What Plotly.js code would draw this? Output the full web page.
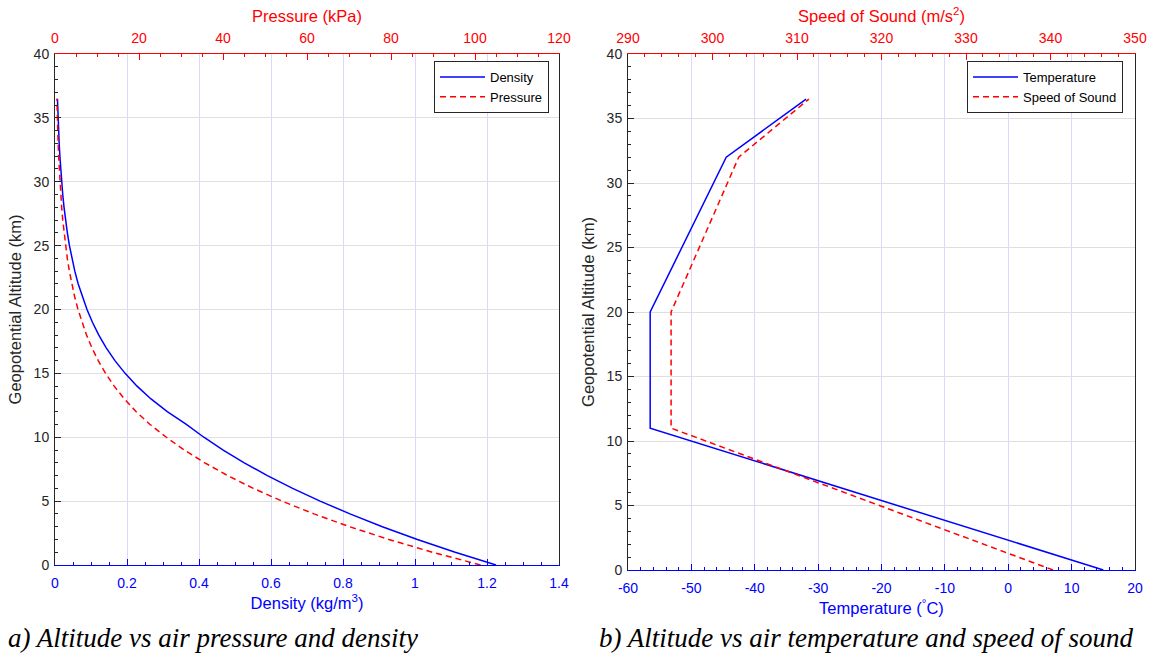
<!DOCTYPE html>
<html>
<head>
<meta charset="utf-8">
<script src="https://cdn.plot.ly/plotly-3.0.1.min.js"></script>
<style>html,body{margin:0;padding:0;background:#fff;}#chart{width:1151px;height:660px;}</style>
</head>
<body>
<div id="chart"></div>
<script>
// ---- Data ----
const altitudeKm = [0,1,2,3,4,5,6,7,8,9,10,11,12,13,14,15,16,17,18,19,20,21,22,23,24,25,26,27,28,29,30,31,32,33,34,35,36,36.5];
const densityKgM3 = [1.2250,1.1117,1.0066,0.9093,0.8194,0.7364,0.6601,0.5900,0.5258,0.4671,0.4135,0.3648,0.3119,0.2666,0.2279,0.1948,0.1665,0.1423,0.1217,0.1040,0.0889,0.0757,0.0645,0.0550,0.0469,0.0401,0.0343,0.0293,0.0251,0.0215,0.0184,0.0158,0.0136,0.0116,0.0099,0.0085,0.0073,0.0068];
const pressureKPa = [101.325,89.876,79.501,70.121,61.660,54.048,47.217,41.105,35.651,30.800,26.500,22.632,19.330,16.510,14.101,12.045,10.287,8.786,7.505,6.410,5.475,4.678,3.999,3.422,2.930,2.511,2.153,1.847,1.586,1.363,1.172,1.009,0.868,0.748,0.645,0.557,0.482,0.448];

const layerAltKm = [0,11,20,32,36.5];
const temperatureC = [15,-56.5,-56.5,-44.5,-31.9];
const speedOfSound = [340.3,295.1,295.1,303.1,311.4];

// tick labels (hyphen minus as in the reference)
const tempTickVals = [-60,-50,-40,-30,-20,-10,0,10,20];
const tempTickText = ['-60','-50','-40','-30','-20','-10','0','10','20'];

const captionA = "a) Altitude vs air pressure and density";
const captionB = "b) Altitude vs air temperature and speed of sound";

// ---- Styling ----
const BLUE = '#0000ff', RED = '#ff0000', DARK = '#262626';
const SANS = 'Liberation Sans, Arial, sans-serif';
const tickFont = (c) => ({family:SANS, size:14, color:c});
const titleFont = (c) => ({family:SANS, size:16.5, color:c});
const W = 1151, H = 660;
const px = v => v / W, py = v => 1 - v / H;
const DASH = '6px,4px';

const traces = [
  {x: densityKgM3, y: altitudeKm, xaxis:'x', yaxis:'y', type:'scatter', mode:'lines',
   name:'Density', line:{color:BLUE, width:1.5}, legend:'legend'},
  {x: pressureKPa, y: altitudeKm, xaxis:'x2', yaxis:'y', type:'scatter', mode:'lines',
   name:'Pressure', line:{color:RED, width:1.5, dash:DASH}, legend:'legend'},
  {x: temperatureC, y: layerAltKm, xaxis:'x3', yaxis:'y2', type:'scatter', mode:'lines',
   name:'Temperature', line:{color:BLUE, width:1.5}, legend:'legend2'},
  {x: speedOfSound, y: layerAltKm, xaxis:'x4', yaxis:'y2', type:'scatter', mode:'lines',
   name:'Speed of Sound', line:{color:RED, width:1.5, dash:DASH}, legend:'legend2'}
];

function xAx(opts){
  return Object.assign({
    showline:true, linewidth:1, ticks:'inside', ticklen:6, tickwidth:1,
    zeroline:false, fixedrange:true, showgrid:false
  }, opts);
}

const domA = [px(55), px(559)], domB = [px(628), px(1135)];
const yDomA = [py(565), py(54)], yDomB = [py(570), py(54)];

const yBase = {
  range:[0,40], dtick:5, tick0:0, showline:true, linecolor:DARK, linewidth:1,
  mirror:true, ticks:'inside', ticklen:6, tickcolor:DARK, tickfont:tickFont(DARK),
  showgrid:true, gridcolor:'#dfdfdf', gridwidth:1, zeroline:false, ticklabelstandoff:2,
  minor:{dtick:1, ticks:'inside', ticklen:3, tickcolor:DARK, showgrid:false},
  title:{text:'Geopotential Altitude (km)', font:titleFont(DARK), standoff:7}
};

const legendBase = {xanchor:'left', yanchor:'top', bgcolor:'#fff',
  bordercolor:'#262626', borderwidth:1, font:{family:SANS, size:13, color:'#000'},
  tracegroupgap:0, itemwidth:45};

const layout = {
  width:W, height:H, margin:{l:0,r:0,t:0,b:0},
  paper_bgcolor:'#fff', plot_bgcolor:'#fff', showlegend:true,
  xaxis: xAx({domain:domA, anchor:'y', side:'bottom', range:[0,1.4], dtick:0.2, tick0:0,
    linecolor:BLUE, tickcolor:BLUE, tickfont:tickFont(BLUE), showgrid:true, gridcolor:'#d9d9ff',
    ticklabelstandoff:5,
    minor:{dtick:0.05, ticks:'inside', ticklen:3, tickcolor:BLUE, showgrid:false},
    title:{text:'Density (kg/m<sup>3</sup>)', font:titleFont(BLUE), standoff:7}}),
  xaxis2: xAx({domain:domA, anchor:'y', overlaying:'x', side:'top', range:[0,120], dtick:20, tick0:0,
    linecolor:RED, tickcolor:RED, tickfont:tickFont(RED), ticklabelstandoff:4,
    minor:{dtick:5, ticks:'inside', ticklen:3, tickcolor:RED, showgrid:false},
    title:{text:'Pressure (kPa)', font:titleFont(RED), standoff:3}}),
  xaxis3: xAx({domain:domB, anchor:'y2', side:'bottom', range:[-60,20], tickmode:'array',
    tickvals:tempTickVals, ticktext:tempTickText,
    linecolor:BLUE, tickcolor:BLUE, tickfont:tickFont(BLUE), showgrid:true, gridcolor:'#d9d9ff',
    ticklabelstandoff:5,
    minor:{dtick:2, tick0:0, ticks:'inside', ticklen:3, tickcolor:BLUE, showgrid:false},
    title:{text:'Temperature (<sup>°</sup>C)', font:titleFont(BLUE), standoff:7}}),
  xaxis4: xAx({domain:domB, anchor:'y2', overlaying:'x3', side:'top', range:[290,350], dtick:10, tick0:0,
    linecolor:RED, tickcolor:RED, tickfont:tickFont(RED), ticklabelstandoff:4,
    minor:{dtick:2, ticks:'inside', ticklen:3, tickcolor:RED, showgrid:false},
    title:{text:'Speed of Sound (m/s<sup>2</sup>)', font:titleFont(RED), standoff:3}}),
  yaxis: Object.assign({}, yBase, {domain:yDomA, anchor:'x'}),
  yaxis2: Object.assign({}, yBase, {domain:yDomB, anchor:'x3'}),
  legend: Object.assign({}, legendBase, {x:px(434), y:py(61)}),
  legend2: Object.assign({}, legendBase, {x:px(967), y:py(61)}),
  annotations: [
    {text:captionA, xref:'paper', yref:'paper', x:px(6), y:py(638), xanchor:'left', yanchor:'middle',
     showarrow:false, font:{family:'Liberation Serif, Times New Roman, serif', size:27, color:'#000', style:'italic'}},
    {text:captionB, xref:'paper', yref:'paper', x:px(597), y:py(638), xanchor:'left', yanchor:'middle',
     showarrow:false, font:{family:'Liberation Serif, Times New Roman, serif', size:27, color:'#000', style:'italic'}}
  ]
};

Plotly.newPlot('chart', traces, layout, {displayModeBar:false, staticPlot:true});
</script>
</body>
</html>
